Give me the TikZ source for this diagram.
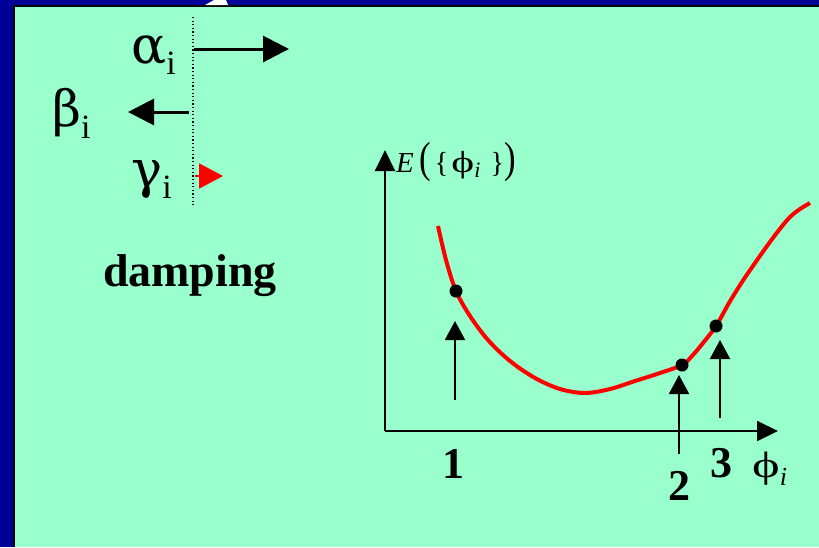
\documentclass[tikz,border=0pt]{standalone}
\usepackage{fontspec}
\setmainfont{Liberation Serif}
\newfontfamily\greekfont{DejaVu Serif}
\usetikzlibrary{arrows.meta}
\definecolor{navy}{RGB}{0,0,153}
\definecolor{mint}{RGB}{153,255,204}
\newcommand{\phiglyph}{\scalebox{1.5}[1.05]{ϕ}}
\begin{document}
\begin{tikzpicture}[x=1pt,y=-1pt,
  bigtip/.style={-{Triangle[length=26pt,width=26pt]}, line width=3pt},
  axtip/.style={-{Triangle[length=21pt,width=20pt]}, line width=2pt},
  uptip/.style={-{Triangle[length=19pt,width=20pt]}, line width=2pt},
  lbl/.style={inner sep=0pt, anchor=base west},
  dotnode/.style={circle, fill=black, inner sep=0pt, minimum size=13pt},
]
\useasboundingbox (0,0) rectangle (819,547);
\fill[navy] (0,0) rectangle (819,547);
\fill[black] (13,5) rectangle (819,547);
\fill[mint] (15,7) rectangle (819,547);
\fill[white] (205,5) -- (228,5) -- (226,0) -- (214,0) -- cycle;
% dotted separator
\coordinate (dtop) at (193,17);
\coordinate (dbot) at (193,205);
\draw[line width=1.2pt, dash pattern=on 1.2pt off 2.4pt] (dtop) -- (dbot);
% greek labels
\node[lbl] (alpha) at (131,63) {\fontsize{52}{52}\selectfont{\greekfont α}\raisebox{-11pt}{\fontsize{34}{34}\selectfont i}};
\node[lbl] (beta) at (52,126) {\fontsize{50}{50}\selectfont{\greekfont β}\raisebox{-12pt}{\fontsize{34}{34}\selectfont i}};
\node[lbl] (gamma) at (131,187) {\fontsize{52}{52}\selectfont{\greekfont γ}\raisebox{-11pt}{\fontsize{34}{34}\selectfont i}};
% arrows
\coordinate (a1) at (194,49); \coordinate (a2) at (289,49);
\draw[bigtip] (a1) -- (a2);
\coordinate (b1) at (189,112); \coordinate (b2) at (128,112);
\draw[bigtip] (b1) -- (b2);
\coordinate (g1) at (195,176); \coordinate (g2) at (223,176);
\draw[red, line width=2pt, -{Triangle[length=24pt,width=25pt]}] (g1) -- (g2);
% damping
\node[inner sep=0pt, anchor=base] (damp) at (190,286) {\fontsize{46}{46}\selectfont\bfseries damping};
% axes
\coordinate (o) at (385,431);
\coordinate (ytop) at (385,150);
\coordinate (xend) at (778,431);
\draw[axtip] (o) -- (ytop);
\draw[axtip] (o) -- (xend);
\node[lbl] (elabel) at (396,172) {\fontsize{29}{29}\selectfont\textit{E}\hspace{6pt}\scalebox{1.2}[1.5]{(}\hspace{3pt}\{\hspace{3pt}\phiglyph\raisebox{-5pt}{\fontsize{22}{22}\selectfont\textit{i}}\hspace{10pt}\}\scalebox{1.2}[1.5]{)}};
\node[lbl] (philabel) at (752,477) {\fontsize{35}{35}\selectfont\phiglyph\raisebox{-8pt}{\fontsize{26}{26}\selectfont\textit{i}}};
% curve
\draw[red, line width=4pt] plot[smooth, tension=0.55] coordinates {(438,226) (446,260) (456,291) (470,316) (488,340) (510,361) (535,378) (560,389) (585,393) (610,389) (635,381) (660,373) (682,365) (692,356) (703,343) (716,326) (729,303) (742,282) (755,263) (767,246) (779,230) (790,217) (800,209) (810,203)};
% dots
\node[dotnode] (d1) at (456,291) {};
\node[dotnode] (d2) at (682,365) {};
\node[dotnode] (d3) at (716,326) {};
% pointer arrows
\coordinate (p1s) at (455,400); \coordinate (p1e) at (455,321);
\coordinate (p2s) at (679,454); \coordinate (p2e) at (679,375);
\coordinate (p3s) at (720,418); \coordinate (p3e) at (720,340);
\draw[uptip] (p1s) -- (p1e);
\draw[uptip] (p2s) -- (p2e);
\draw[uptip] (p3s) -- (p3e);
% numbers
\node[inner sep=0pt, anchor=base] (n1) at (453,478) {\fontsize{44}{44}\selectfont\bfseries 1};
\node[inner sep=0pt, anchor=base] (n2) at (679,500) {\fontsize{44}{44}\selectfont\bfseries 2};
\node[inner sep=0pt, anchor=base] (n3) at (721,477) {\fontsize{44}{44}\selectfont\bfseries 3};
\end{tikzpicture}
\end{document}
